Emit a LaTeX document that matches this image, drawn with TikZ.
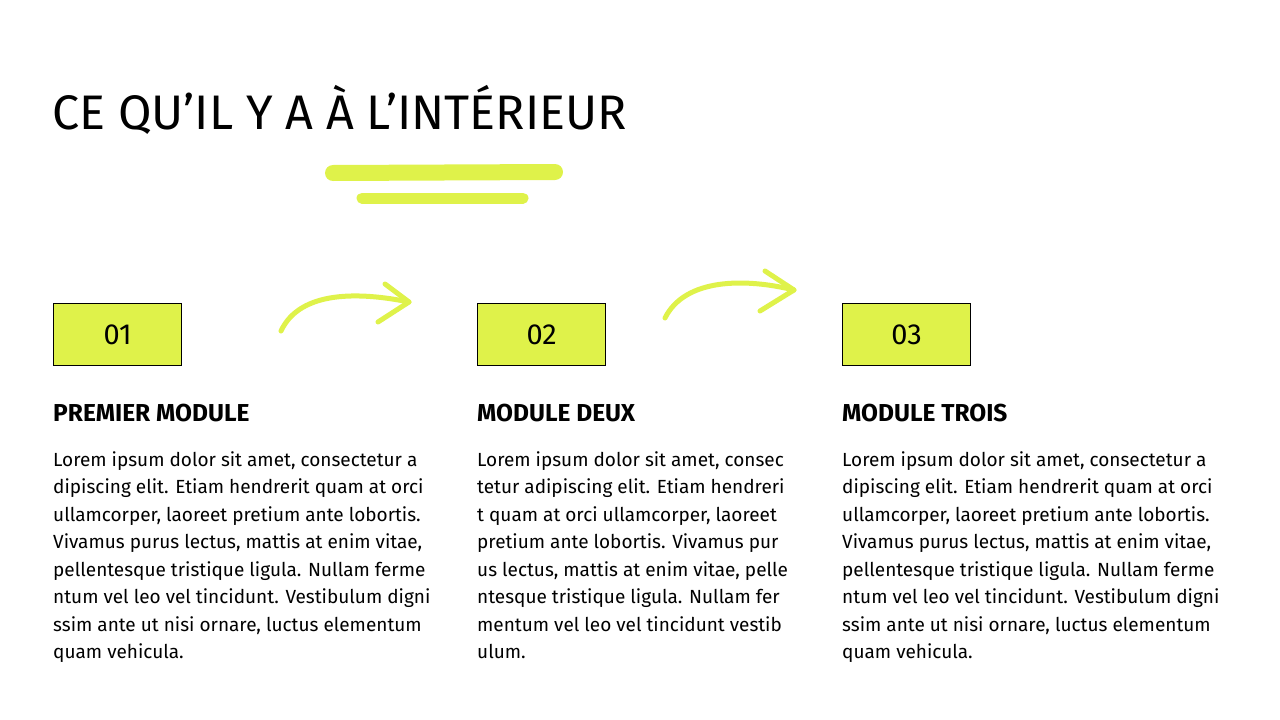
\documentclass[tikz,border=0pt]{standalone}
\usepackage{fontspec}
\setmainfont{Fira Sans}
\definecolor{lime}{HTML}{DFF24A}
\newcommand{\apo}{{\char"0027}}
\begin{document}
\begin{tikzpicture}[x=1pt,y=-1pt,
  numbox/.style={draw=black,line width=1.3pt,fill=lime,minimum width=128pt,minimum height=62pt,anchor=north west,inner sep=0pt,font=\fontsize{29}{32}\selectfont},
  head/.style={anchor=north west,inner sep=0pt,font=\fontsize{24.5}{28}\selectfont\bfseries},
  body/.style={anchor=north west,inner sep=0pt,align=left,font=\fontsize{19}{27.5}\selectfont},
  hl/.style={lime,line cap=round},
  arr/.style={lime,line width=5pt,line cap=round,line join=round}]
\useasboundingbox (0,0) rectangle (1280,720);
\node[anchor=west,inner sep=0pt,font=\fontsize{48.5}{54}\selectfont] (title) at (52,110) {CE QU\apo IL Y A À L\apo INTÉRIEUR};
\draw[hl,line width=16pt] (333,173) -- (555,172);
\draw[hl,line width=11pt] (362,198) -- (523,198);
\node[numbox] (b1) at (53,303) {01};
\node[numbox] (b2) at (477,303) {02};
\node[numbox] (b3) at (842,303) {03};
\coordinate (a1s) at (281,331); \coordinate (a1e) at (409,302);
\draw[arr] (a1s) .. controls (300,290) and (360,292) .. (a1e);
\draw[arr] (385,284) -- (a1e) -- (378,322);
\coordinate (a2s) at (665,318); \coordinate (a2e) at (794,290);
\draw[arr] (a2s) .. controls (685,278) and (745,278) .. (a2e);
\draw[arr] (765,271) -- (a2e) -- (760,311);
\node[head] (h1) at (53,404) {PREMIER MODULE};
\node[head] (h2) at (477,404) {MODULE DEUX};
\node[head] (h3) at (842,404) {MODULE TROIS};
\node[body] (t1) at (53,451) {Lorem ipsum dolor sit amet, consectetur a\\dipiscing elit. Etiam hendrerit quam at orci\\ullamcorper, laoreet pretium ante lobortis.\\Vivamus purus lectus, mattis at enim vitae,\\pellentesque tristique ligula. Nullam ferme\\ntum vel leo vel tincidunt. Vestibulum digni\\ssim ante ut nisi ornare, luctus elementum\\quam vehicula.};
\node[body] (t2) at (477,451) {Lorem ipsum dolor sit amet, consec\\tetur adipiscing elit. Etiam hendreri\\t quam at orci ullamcorper, laoreet\\pretium ante lobortis. Vivamus pur\\us lectus, mattis at enim vitae, pelle\\ntesque tristique ligula. Nullam fer\\mentum vel leo vel tincidunt vestib\\ulum.};
\node[body] (t3) at (842,451) {Lorem ipsum dolor sit amet, consectetur a\\dipiscing elit. Etiam hendrerit quam at orci\\ullamcorper, laoreet pretium ante lobortis.\\Vivamus purus lectus, mattis at enim vitae,\\pellentesque tristique ligula. Nullam ferme\\ntum vel leo vel tincidunt. Vestibulum digni\\ssim ante ut nisi ornare, luctus elementum\\quam vehicula.};
\end{tikzpicture}
\end{document}
